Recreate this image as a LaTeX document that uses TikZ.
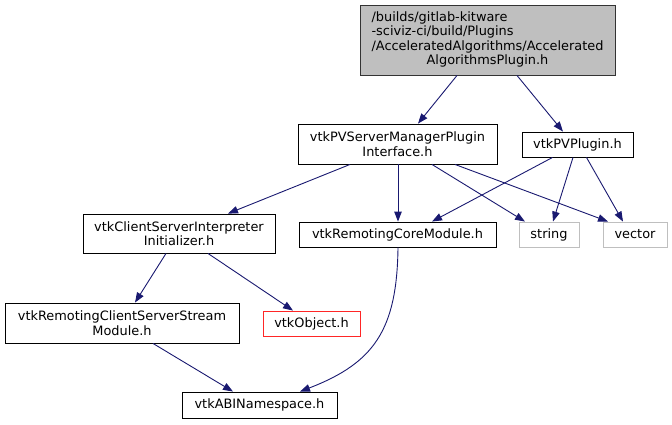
\documentclass[tikz,border=0pt]{standalone}
\usepackage{fontspec}
\setmainfont{DejaVu Sans}
\usetikzlibrary{arrows.meta}
\definecolor{edgeblue}{RGB}{25,25,112}
\definecolor{boxgray}{RGB}{191,191,191}
\tikzset{
  hbox/.style={draw=black, line width=0.9pt, inner sep=0pt, align=center,
    font=\fontsize{12.9}{14.5}\selectfont},
  extbox/.style={hbox, draw=boxgray},
  redbox/.style={hbox, draw=red!85!white},
  dep/.style={draw=edgeblue, line width=0.9pt, -{Triangle[length=10pt,width=7.5pt]}},
}
\begin{document}
\begin{tikzpicture}[x=1pt,y=-1pt]
\useasboundingbox (0,0) rectangle (672,424);
\node[hbox, fill=boxgray, draw=black!80, minimum width=255pt, minimum height=70pt] (top) at (487.5,40)
  {\renewcommand\arraystretch{1}\begin{tabular}{@{}l@{}}/builds/gitlab-kitware\\-sciviz-ci/build/Plugins\\/AcceleratedAlgorithms/Accelerated\\\multicolumn{1}{@{}c@{}}{AlgorithmsPlugin.h}\end{tabular}};
\node[hbox, minimum width=199pt, minimum height=40pt] (pvsm) at (397.5,144) {vtkPVServerManagerPlugin\\Interface.h};
\node[hbox, minimum width=111pt, minimum height=25pt] (pvp) at (577.5,144.5) {vtkPVPlugin.h};
\node[hbox, minimum width=197pt, minimum height=25pt] (rcore) at (397.5,234.5) {vtkRemotingCoreModule.h};
\node[extbox, minimum width=60pt, minimum height=25pt] (string) at (549,234.5) {string};
\node[extbox, minimum width=64pt, minimum height=25pt] (vector) at (635,234.5) {vector};
\node[hbox, minimum width=192pt, minimum height=39pt] (csii) at (179,233.5) {vtkClientServerInterpreter\\Initializer.h};
\node[redbox, minimum width=97pt, minimum height=25pt] (vobj) at (311.5,323.5) {vtkObject.h};
\node[hbox, minimum width=234pt, minimum height=40pt] (rcssm) at (122,323) {vtkRemotingClientServerStream\\Module.h};
\node[hbox, minimum width=155pt, minimum height=26pt] (abi) at (259.5,405) {vtkABINamespace.h};

\draw[dep] ([xshift=-30.5pt]top.south) -- ([xshift=20.5pt]pvsm.north);
\draw[dep] ([xshift=29.5pt]top.south) -- ([xshift=-14.5pt]pvp.north);
\draw[dep] ([xshift=-47.5pt]pvsm.south) -- ([xshift=49pt]csii.north);
\draw[dep] ([xshift=0.5pt]pvsm.south) -- ([xshift=0.5pt]rcore.north);
\draw[dep] ([xshift=34.5pt]pvsm.south) -- ([xshift=-24pt]string.north);
\draw[dep] ([xshift=57.5pt]pvsm.south) -- ([xshift=-27pt]vector.north);
\draw[dep] ([xshift=-25pt]pvp.south) -- ([xshift=34.5pt]rcore.north);
\draw[dep] ([xshift=-4.5pt]pvp.south) -- ([xshift=4pt]string.north);
\draw[dep] ([xshift=9pt]pvp.south) -- ([xshift=-12pt]vector.north);
\draw[dep] ([xshift=-13pt]csii.south) -- ([xshift=13pt]rcssm.north);
\draw[dep] ([xshift=29pt]csii.south) -- ([xshift=-18.5pt]vobj.north);
\draw[dep] ([xshift=31pt]rcssm.south) -- ([xshift=-26.5pt]abi.north);
\draw[dep] ([xshift=0.5pt]rcore.south) .. controls (397,330) and (374,363) .. ([xshift=40.5pt]abi.north);
\end{tikzpicture}
\end{document}
